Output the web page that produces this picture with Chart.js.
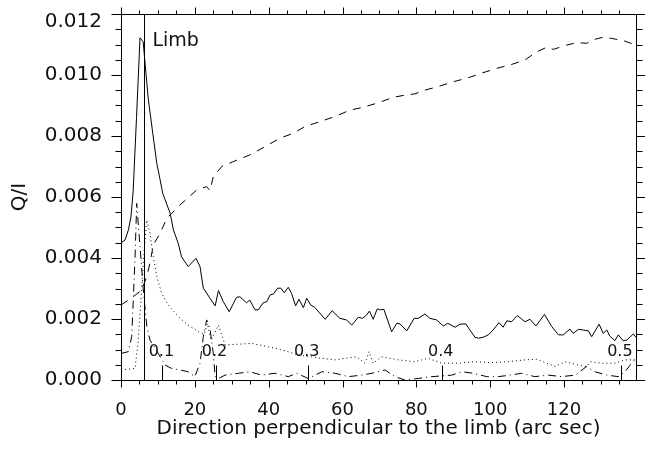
<!DOCTYPE html>
<html><head><meta charset="utf-8">
<script src="https://cdn.jsdelivr.net/npm/chart.js@4/dist/chart.umd.min.js"></script>
<style>html,body{margin:0;padding:0;background:#fff;}#wrap{width:645px;height:452px;}</style>
</head><body><div id="wrap"><canvas id="c" width="645" height="452"></canvas></div>
<script>
const solidX = [0,1.1,2.0,2.7,3.3,4.2,5.15,6.0,7.4,8.6,9.7,10.6,11.3,13.3,14.2,15.5,16.4,18.2,20.3,21.4,22.3,25.5,26.4,27.7,29.3,31.3,32.2,34.0,34.9,36.3,37.2,38.5,39.5,40.4,41.3,42.4,43.3,44.2,45.3,46.2,47.3,48.2,49.4,50.3,51.4,52.5,55.3,57.2,59.3,61.1,62.5,64.3,65.4,66.5,67.3,68.3,69.4,70.3,71.2,73.3,74.7,75.6,77.4,79.4,80.5,82.3,83.7,85.5,87.3,88.5,90.5,91.8,93.4,94.5,95.9,96.8,98.1,99.5,100.8,102.4,103.5,104.5,105.8,107.4,109.4,110.8,112.4,114.7,116.7,118.5,119.8,121.6,122.5,123.9,125.2,126.6,127.5,129.5,130.6,131.6,132.4,133.8,134.7,136.0,137.0,138.8,139.5];
const solidY = [0.00449,0.00459,0.00492,0.00535,0.0062,0.0086,0.01122,0.01109,0.0092,0.0081,0.0071,0.00656,0.00612,0.00547,0.00492,0.00448,0.00404,0.00372,0.00399,0.00372,0.00301,0.00243,0.00293,0.00257,0.00224,0.00271,0.00273,0.00253,0.00262,0.0023,0.0023,0.00253,0.00257,0.00279,0.00282,0.00301,0.00301,0.00286,0.00304,0.00284,0.00243,0.00265,0.00237,0.00268,0.00246,0.00238,0.00199,0.00227,0.00202,0.00197,0.0018,0.00206,0.00202,0.00213,0.00226,0.00199,0.00233,0.0023,0.00232,0.00158,0.00186,0.00184,0.00161,0.00202,0.00202,0.00216,0.00202,0.00197,0.00177,0.00186,0.00173,0.00183,0.00184,0.00164,0.0014,0.00137,0.0014,0.00148,0.00164,0.00188,0.00173,0.00194,0.00191,0.00211,0.00191,0.00199,0.00177,0.00215,0.00175,0.00148,0.00148,0.00167,0.00153,0.00166,0.00164,0.00161,0.00142,0.00183,0.00153,0.00164,0.00144,0.00129,0.00148,0.00129,0.00131,0.00151,0.0014];

const dashX = [0,2.0,3.5,5.6,7.0,7.85,8.75,10.6,12.4,16,20.5,23.2,24.1,25,27.3,30.4,34.9,39,43.1,46.7,49.8,53.9,58.4,62,65.6,69.7,73.8,77.4,79.6,81.9,85.9,90,93.6,97.7,101.8,105.4,109.4,112.6,115.3,117.1,120.7,123.4,126.1,128.4,130.6,132.9,136,139.5];
const dashY = [0.00246,0.00262,0.00275,0.00295,0.0034,0.00383,0.00443,0.00481,0.0053,0.00574,0.00623,0.00634,0.00621,0.00667,0.007,0.00716,0.00738,0.00765,0.00793,0.00809,0.00831,0.00847,0.00866,0.00885,0.00894,0.00909,0.00927,0.00935,0.00938,0.00949,0.00962,0.00978,0.00989,0.01006,0.01022,0.01033,0.01049,0.01076,0.01091,0.01084,0.01098,0.01106,0.01104,0.01117,0.01124,0.0112,0.01113,0.01098];

const dotX = [0,3.8,4.6,5.5,6.3,7.0,7.85,8.75,9.7,11,12.8,15.5,18.2,21.4,22.5,23.4,24.4,26.4,28.2,32.7,35.4,39.9,44.4,48,54.4,58,60.7,63.8,66.1,67.2,68.3,70.6,75.1,79.6,83.2,86.9,91.4,95.9,100.4,104.9,109.4,112.6,117.6,120.3,123.9,126.1,127.2,130.2,133.8,136.5,139.5];
const dotY = [0.00033,0.00038,0.0012,0.0028,0.0043,0.00525,0.00481,0.00404,0.00339,0.00284,0.00246,0.00208,0.0018,0.00155,0.0015,0.00185,0.0013,0.0018,0.00115,0.00118,0.0012,0.00109,0.00096,0.00082,0.00071,0.00066,0.00071,0.00076,0.00055,0.00093,0.00055,0.00076,0.00066,0.0006,0.00071,0.00055,0.00055,0.0006,0.00057,0.0006,0.00066,0.00068,0.00044,0.0006,0.00049,0.00044,0.0006,0.00055,0.00055,0.00066,0.00066];

const ddX = [0,2.0,2.9,3.8,4.25,5.15,6.04,7.0,7.85,10.1,11.9,13.7,16,18.2,20,21.4,22.3,23.2,24.1,25,25.5,26.4,28.2,31.8,34.9,38.1,41.7,45.3,47.6,50.7,54.4,58,61.6,65.2,67.9,71.5,74.2,76.9,80.5,84.2,89.6,92.3,95.4,99.1,102.2,105.4,108.5,112.1,115.7,119.4,123,126.1,128.4,131.6,134.7,136.5,138.3,139.5];
const ddY = [0.00087,0.00093,0.00142,0.004,0.00579,0.00437,0.00295,0.00175,0.00131,0.00087,0.00049,0.00038,0.00033,0.00027,0.00011,0.00055,0.00142,0.00197,0.00169,0.00087,0.00011,0.00005,0.00016,0.00022,0.00027,0.00016,0.00022,0.00011,0.00022,0.00005,0.00027,0.00022,0.00011,0.00016,0.00022,0.00033,0.00011,0.0,0.00005,0.00011,0.00016,0.00027,0.00022,0.00011,0.00011,0.00016,0.00022,0.00011,0.00016,0.00011,0.00016,0.00044,0.00027,0.00016,0.00011,0.00027,0.00055,0.00071];

const limbX = 6.3;
const limbLabel = 'Limb';
const markX = [11.2, 25.6, 50.6, 86.9, 135.4];
const markLabels = ['0.1', '0.2', '0.3', '0.4', '0.5'];
const xTitle = 'Direction perpendicular to the limb (arc sec)';
const yTitle = 'Q/I';

const FONT = "'DejaVu Sans', sans-serif";
const INK = '#000';
const TXT = '#111';

function pts(xs, ys) { return xs.map((x, i) => ({ x: x, y: ys[i] })); }
function isTop(v) { return Math.abs(v - 0.012) < 1e-9; }

const framePlugin = {
  id: 'frame',
  afterDraw(chart) {
    const { ctx, chartArea: a, scales: { x, y } } = chart;
    ctx.save();
    ctx.strokeStyle = INK;
    ctx.lineWidth = 1;
    const L = Math.round(a.left) + 0.5, R = Math.round(a.right) + 0.5;
    const T = Math.round(a.top) + 0.5, B = Math.round(a.bottom) + 0.5;
    ctx.beginPath();
    ctx.moveTo(L, T); ctx.lineTo(R, T); ctx.lineTo(R, B); ctx.lineTo(L, B); ctx.closePath();
    for (let v = 0; v <= x.max + 1e-9; v += 5) {
      const px = Math.round(x.getPixelForValue(v)) + 0.5;
      const len = (v % 20 === 0) ? 7 : 4;
      ctx.moveTo(px, B); ctx.lineTo(px, B + len);
      ctx.moveTo(px, T); ctx.lineTo(px, T - len);
    }
    for (let k = 0; k <= 24; k++) {
      const py = Math.round(y.getPixelForValue(k * 0.0005)) + 0.5;
      const len = (k % 4 === 0) ? 10 : 6;
      ctx.moveTo(L, py); ctx.lineTo(L - len, py);
      ctx.moveTo(R, py); ctx.lineTo(R + len, py);
    }
    ctx.stroke();
    const lx = Math.round(x.getPixelForValue(limbX)) + 0.5;
    ctx.beginPath();
    ctx.moveTo(lx, B); ctx.lineTo(lx, T);
    markX.forEach(v => {
      const px = Math.round(x.getPixelForValue(v)) + 0.5;
      ctx.moveTo(px, B); ctx.lineTo(px, B - 15);
    });
    ctx.stroke();
    ctx.fillStyle = TXT;
    ctx.font = '19px ' + FONT;
    ctx.textAlign = 'left';
    ctx.textBaseline = 'middle';
    ctx.fillText(limbLabel, lx + 8, a.top + 27);
    ctx.font = '16px ' + FONT;
    ctx.textAlign = 'center';
    markX.forEach((v, i) => {
      const px = x.getPixelForValue(v);
      ctx.fillText(markLabels[i], px - 1, a.bottom - 28);
    });
    ctx.restore();
  }
};

new Chart(document.getElementById('c'), {
  type: 'line',
  data: {
    datasets: [
      { data: pts(solidX, solidY), borderColor: INK, borderWidth: 1, pointRadius: 0, tension: 0 },
      { data: pts(dashX, dashY), borderColor: INK, borderWidth: 1, pointRadius: 0, tension: 0, borderDash: [8, 7] },
      { data: pts(dotX, dotY), borderColor: INK, borderWidth: 1, pointRadius: 0, tension: 0, borderDash: [1, 3] },
      { data: pts(ddX, ddY), borderColor: INK, borderWidth: 1, pointRadius: 0, tension: 0, borderDash: [8, 4, 1, 4] }
    ]
  },
  options: {
    responsive: false,
    animation: false,
    devicePixelRatio: 1,
    layout: { padding: { top: 14, right: 9, left: 0, bottom: 0 } },
    plugins: { legend: { display: false }, tooltip: { enabled: false } },
    scales: {
      x: {
        type: 'linear', position: 'bottom', min: 0, max: 139.5,
        grid: { display: false, drawTicks: false },
        border: { display: false },
        ticks: { stepSize: 20, includeBounds: false, padding: 20, color: TXT, maxRotation: 0, autoSkip: false,
                 font: { family: FONT, size: 18 } },
        title: { display: true, text: xTitle, color: TXT, font: { family: FONT, size: 20 }, padding: { top: 0, bottom: 11 } },
        afterFit(s) { s.height = 72; s.paddingLeft = 0; s.paddingRight = 0; }
      },
      y: {
        type: 'linear', position: 'left', min: 0, max: 0.012,
        grid: { display: false, drawTicks: false },
        border: { display: false },
        ticks: { stepSize: 0.002, padding: 19, color: TXT,
                 callback: v => isTop(v) ? ['', v.toFixed(3)] : v.toFixed(3),
                 font: ctx => (ctx.tick && isTop(ctx.tick.value))
                   ? { family: FONT, size: 20, lineHeight: '16px' } : { family: FONT, size: 20 } },
        title: { display: true, text: yTitle, color: TXT, font: { family: FONT, size: 20 }, padding: { top: 8, bottom: 0 } },
        afterFit(s) { s.width = 121; s.paddingTop = 0; s.paddingBottom = 0; }
      }
    }
  },
  plugins: [framePlugin]
});
</script>
</body></html>
